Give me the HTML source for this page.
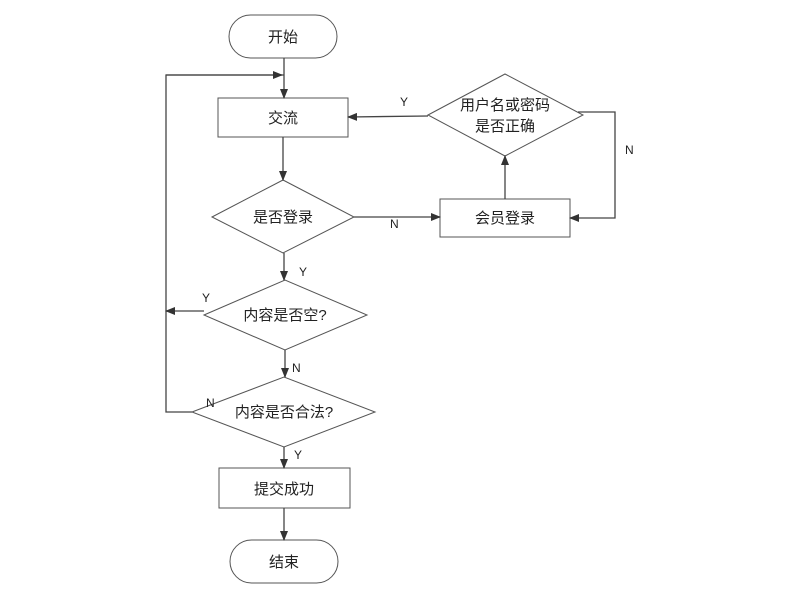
<!DOCTYPE html>
<html><head><meta charset="utf-8"><style>body{margin:0;background:#fff}svg{display:block}text{font-family:"Liberation Sans","Noto Sans CJK SC",sans-serif;font-size:15px;fill:#222}.l{font-size:12px}</style></head><body>
<svg width="794" height="597" viewBox="0 0 794 597">
<defs><marker id="a" markerWidth="10" markerHeight="8" refX="9" refY="4" orient="auto" markerUnits="userSpaceOnUse"><path d="M0,0L10,4L0,8z" fill="#333"/></marker></defs>
<g fill="#fff" stroke="#555" stroke-width="1">
<rect x="229" y="15" width="108" height="43" rx="21.5"/>
<rect x="218" y="98" width="130" height="39"/>
<polygon points="212,217 283,180 354,217 283,253"/>
<rect x="440" y="199" width="130" height="38"/>
<polygon points="428,115 505,74 583,115 505,156"/>
<polygon points="204,315 285,280 367,315 285,350"/>
<polygon points="192,412 284,377 375,412 284,447"/>
<rect x="219" y="468" width="131" height="40"/>
<rect x="230" y="540" width="108" height="43" rx="21.5"/>
</g>
<g stroke="#444" stroke-width="1.3" fill="none" marker-end="url(#a)">
<line x1="284" y1="58" x2="284" y2="98"/>
<polyline points="192,412 166,412 166,75 284,75" marker-end="none"/>
<line x1="166" y1="75" x2="282" y2="75"/>
<line x1="283" y1="137" x2="283" y2="180"/>
<line x1="354" y1="217" x2="440" y2="217"/>
<line x1="505" y1="199" x2="505" y2="156"/>
<line x1="428" y1="116" x2="348" y2="117"/>
<polyline points="578,112 615,112 615,218 570,218"/>
<line x1="284" y1="253" x2="284" y2="280"/>
<polyline points="204,311 196,311 166,311"/>
<line x1="285" y1="350" x2="285" y2="377"/>
<line x1="284" y1="447" x2="284" y2="468"/>
<line x1="284" y1="508" x2="284" y2="540"/>
</g>
<g text-anchor="middle">
<text x="283" y="42">开始</text>
<text x="283" y="123">交流</text>
<text x="283" y="222">是否登录</text>
<text x="505" y="223">会员登录</text>
<text x="505" y="110">用户名或密码</text>
<text x="505" y="131">是否正确</text>
<text x="285" y="320">内容是否空?</text>
<text x="284" y="417">内容是否合法?</text>
<text x="284" y="494">提交成功</text>
<text x="284" y="567">结束</text>
</g>
<g class="l">
<text class="l" x="400" y="106">Y</text>
<text class="l" x="625" y="154">N</text>
<text class="l" x="390" y="228">N</text>
<text class="l" x="299" y="276">Y</text>
<text class="l" x="202" y="302">Y</text>
<text class="l" x="292" y="372">N</text>
<text class="l" x="206" y="407">N</text>
<text class="l" x="294" y="459">Y</text>
</g>
</svg></body></html>
